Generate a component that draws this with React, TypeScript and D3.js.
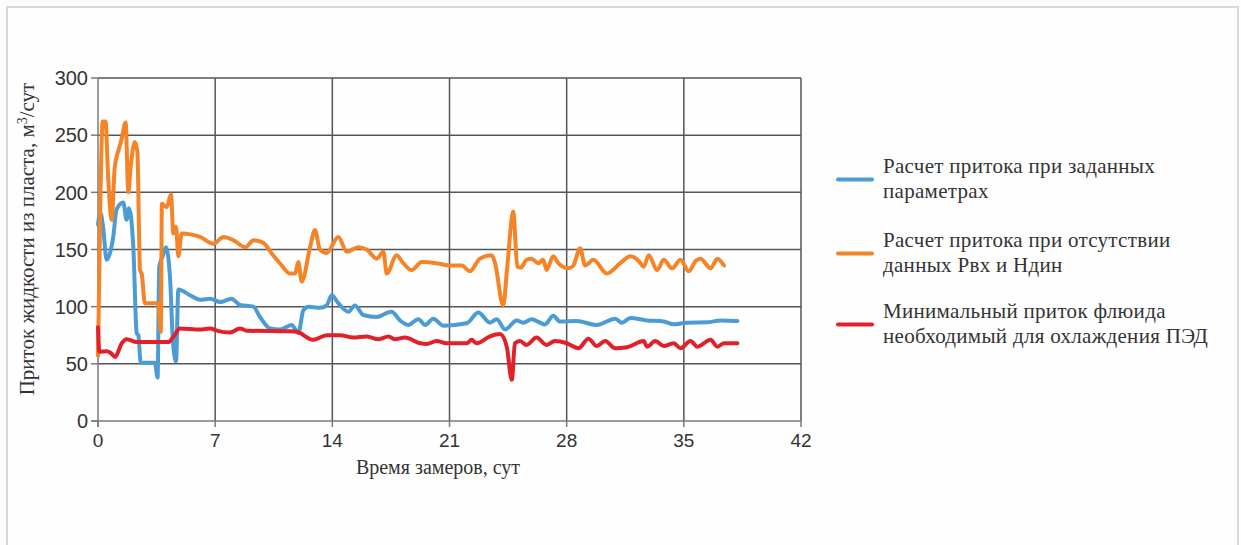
import React from "react";
import * as d3 from "d3";

// Time axis (days) and inflow values (m³/day) for each series
const blueDays = [0, 0.15, 0.3, 0.52, 0.91, 1.11, 1.51, 1.71, 1.85, 2.11, 2.31, 2.41, 2.55, 3.4, 3.56, 3.66, 3.86, 4.06, 4.3, 4.46, 4.66, 4.8, 5.5, 6.1, 6.7, 7.3, 7.98, 8.48, 9.28, 9.68, 10.28, 10.87, 11.57, 11.97, 12.27, 12.57, 13.26, 13.66, 13.96, 14.36, 14.96, 15.35, 15.85, 16.65, 17.54, 18.04, 18.54, 19.14, 19.54, 20.03, 20.63, 22.03, 22.72, 23.42, 23.82, 24.32, 25.01, 25.41, 25.91, 26.41, 26.7, 27.2, 27.6, 28.6, 29.8, 30.9, 31.3, 31.8, 32.8, 33.8, 34.4, 35.2, 36.4, 37.2, 38.2];
const blueValues = [172, 182, 170, 141, 161, 185, 191, 176, 186, 152, 77, 75, 51, 51, 38, 135, 144, 152, 126, 74, 52, 115, 110, 106, 107, 104, 107, 101.5, 100, 91, 81, 80, 84, 77, 97, 100, 99, 101, 110, 103, 95.6, 101, 92.7, 91, 95.6, 88, 84, 89, 84, 89.5, 83.4, 85.5, 95, 86, 89, 80, 88, 86, 89, 86, 84.5, 92, 87, 87.5, 84, 89.5, 86, 90, 88, 87, 84.6, 86, 86.3, 88, 87.5];

const orangeDays = [0, 0.15, 0.28, 0.45, 0.6, 0.82, 1.0, 1.25, 1.4, 1.65, 1.81, 1.95, 2.2, 2.35, 2.51, 2.62, 2.8, 3.6, 3.75, 3.82, 4.1, 4.36, 4.5, 4.66, 4.8, 5.0, 5.6, 6.1, 6.9, 7.5, 8.1, 8.8, 9.3, 9.9, 10.4, 10.87, 11.47, 11.77, 11.97, 12.17, 12.67, 12.96, 13.26, 13.66, 14.36, 14.86, 15.55, 16.05, 16.65, 17.05, 17.25, 17.84, 18.24, 18.74, 19.34, 20.23, 21.03, 21.73, 22.22, 22.82, 23.52, 23.72, 24.21, 24.45, 24.81, 25.05, 25.25, 25.61, 25.9, 26.3, 26.6, 26.8, 27.2, 27.5, 28.1, 28.4, 28.8, 29.1, 29.6, 30.4, 31.2, 31.8, 32.3, 32.6, 32.9, 33.4, 33.8, 34.3, 34.8, 35.3, 35.7, 36.0, 36.6, 37.0, 37.4];
const orangeValues = [57, 200, 262, 262, 215, 176, 222, 238, 246, 261, 200, 222, 244, 236, 132, 128, 103, 103, 78, 190, 187, 198, 164, 170, 144, 164, 163, 161, 155, 161, 158, 152, 158, 155.6, 146, 138, 129, 129, 139, 122, 152, 167, 150, 147, 161, 148, 152, 150, 142, 148, 129, 145, 138, 132, 139, 138, 136, 136, 131, 142, 145, 138, 101, 135, 183, 135, 134, 141, 142, 138, 141, 132, 144, 138, 133.5, 136, 151, 136, 141, 129, 138, 144, 140, 135, 145, 132, 141, 133.5, 141, 131, 140, 142, 133.5, 142, 136];

const redDays = [0, 0.08, 0.52, 0.76, 1.02, 1.42, 1.71, 2.31, 4.2, 4.5, 4.9, 6.1, 6.7, 7.09, 7.89, 8.48, 8.88, 11.47, 11.87, 12.86, 13.66, 14.46, 15.25, 16.05, 16.75, 17.35, 17.74, 18.34, 19.24, 19.64, 20.23, 20.83, 22.03, 22.32, 22.62, 23.42, 24.02, 24.42, 24.72, 24.91, 25.21, 25.6, 26.2, 26.8, 27.3, 28.0, 28.7, 29.3, 29.8, 30.3, 30.9, 31.6, 32.6, 32.8, 33.3, 33.8, 34.4, 34.8, 35.4, 35.8, 36.6, 37.0, 37.4, 38.2];
const redValues = [82, 60.6, 61, 59.5, 56, 68, 71.5, 69, 69, 73.7, 81, 80, 81, 79, 77.3, 81, 79, 78.4, 78, 71, 75, 75, 73, 74, 71.5, 74, 71.5, 73, 68, 67.4, 70, 68, 68, 71, 68, 74, 76, 65, 36, 68, 70, 66.5, 73, 66.5, 70, 68, 63.6, 72, 65.5, 70, 63.6, 64.5, 70, 65, 70, 65.5, 68, 63.6, 70, 65, 71, 65, 68, 68];

const xTicks = [0, 7, 14, 21, 28, 35, 42];
const yTicks = [0, 50, 100, 150, 200, 250, 300];

const seriesNames = [
  ["Расчет притока при заданных", "параметрах"],
  ["Расчет притока при отсутствии", "данных Рвх и Ндин"],
  ["Минимальный приток флюида", "необходимый для охлаждения ПЭД"],
];
const seriesColors = ["#4b9bd5", "#f58426", "#e2202a"];

const W = 1241;
const H = 545;
const left = 98;
const right = 801;
const top = 78;
const bottom = 421;

export default function App() {
  const x = d3.scaleLinear().domain([0, 42]).range([left, right]);
  const y = d3.scaleLinear().domain([0, 300]).range([bottom, top]);

  const line = d3
    .line<[number, number]>()
    .x((d) => x(d[0]))
    .y((d) => y(d[1]))
    .curve(d3.curveMonotoneX);

  const series = [
    d3.zip(blueDays, blueValues) as [number, number][],
    d3.zip(orangeDays, orangeValues) as [number, number][],
    d3.zip(redDays, redValues) as [number, number][],
  ];

  const gridColor = "#555";
  const axisColor = "#7a7a7a";
  const legendTop = [166, 240, 311];
  const serif = "Liberation Serif, Times New Roman, serif";
  const sans = "Liberation Sans, Arial, sans-serif";

  return (
    <svg
      width={W}
      height={H}
      style={{ position: "absolute", left: 0, top: 0, background: "#fdfdfd" }}
    >
      <rect x={7} y={7} width={1231} height={560} fill="#fefefe" stroke="#d8d8d8" strokeWidth={2} />

      {/* grid */}
      {yTicks.filter((t) => t > 0).map((t) => (
        <line key={"gy" + t} x1={left} x2={right} y1={y(t)} y2={y(t)} stroke={gridColor} strokeWidth={1.5} />
      ))}
      {xTicks.filter((t) => t > 0).map((t) => (
        <line key={"gx" + t} x1={x(t)} x2={x(t)} y1={top} y2={bottom} stroke={gridColor} strokeWidth={1.5} />
      ))}

      {/* axes */}
      <line x1={left} x2={left} y1={top} y2={bottom + 6} stroke={axisColor} strokeWidth={1.5} />
      <line x1={left - 6} x2={right} y1={bottom} y2={bottom} stroke={axisColor} strokeWidth={1.5} />
      {yTicks.map((t) => (
        <line key={"ty" + t} x1={left - 7} x2={left} y1={y(t)} y2={y(t)} stroke={axisColor} strokeWidth={1.5} />
      ))}
      {xTicks.map((t) => (
        <line key={"tx" + t} x1={x(t)} x2={x(t)} y1={bottom} y2={bottom + 6} stroke={axisColor} strokeWidth={1.5} />
      ))}

      {yTicks.map((t) => (
        <text
          key={"ly" + t}
          x={left - 10}
          y={y(t)}
          dy="0.36em"
          textAnchor="end"
          fontFamily={sans}
          fontSize={20}
          fill="#333"
        >
          {t}
        </text>
      ))}
      {xTicks.map((t) => (
        <text
          key={"lx" + t}
          x={x(t)}
          y={bottom + 26}
          textAnchor="middle"
          fontFamily={sans}
          fontSize={19}
          fill="#333"
        >
          {t}
        </text>
      ))}

      <text x={438} y={474} textAnchor="middle" fontFamily={serif} fontSize={20} fill="#333">
        Время замеров, сут
      </text>
      <text
        transform={`translate(34, 239) rotate(-90)`}
        textAnchor="middle"
        fontFamily={serif}
        fontSize={21}
        fill="#333"
      >
        Приток жидкости из пласта, м<tspan dy={-7} fontSize={14}>3</tspan>
        <tspan dy={7}>/сут</tspan>
      </text>

      {/* data lines */}
      {series.map((s, i) => (
        <path
          key={"s" + i}
          d={line(s) || ""}
          fill="none"
          stroke={seriesColors[i]}
          strokeWidth={4}
          strokeLinejoin="round"
          strokeLinecap="round"
        />
      ))}

      {/* legend */}
      {seriesNames.map((lines, i) => (
        <g key={"lg" + i}>
          <line
            x1={838}
            x2={872}
            y1={legendTop[i] + 13.5}
            y2={legendTop[i] + 13.5}
            stroke={seriesColors[i]}
            strokeWidth={4}
            strokeLinecap="round"
          />
          {lines.map((t, j) => (
            <text
              key={j}
              x={883}
              y={legendTop[i] + j * 25}
              dy="0.35em"
              fontFamily={serif}
              fontSize={21}
              letterSpacing={0.3}
              fill="#333"
            >
              {t}
            </text>
          ))}
        </g>
      ))}
    </svg>
  );
}
